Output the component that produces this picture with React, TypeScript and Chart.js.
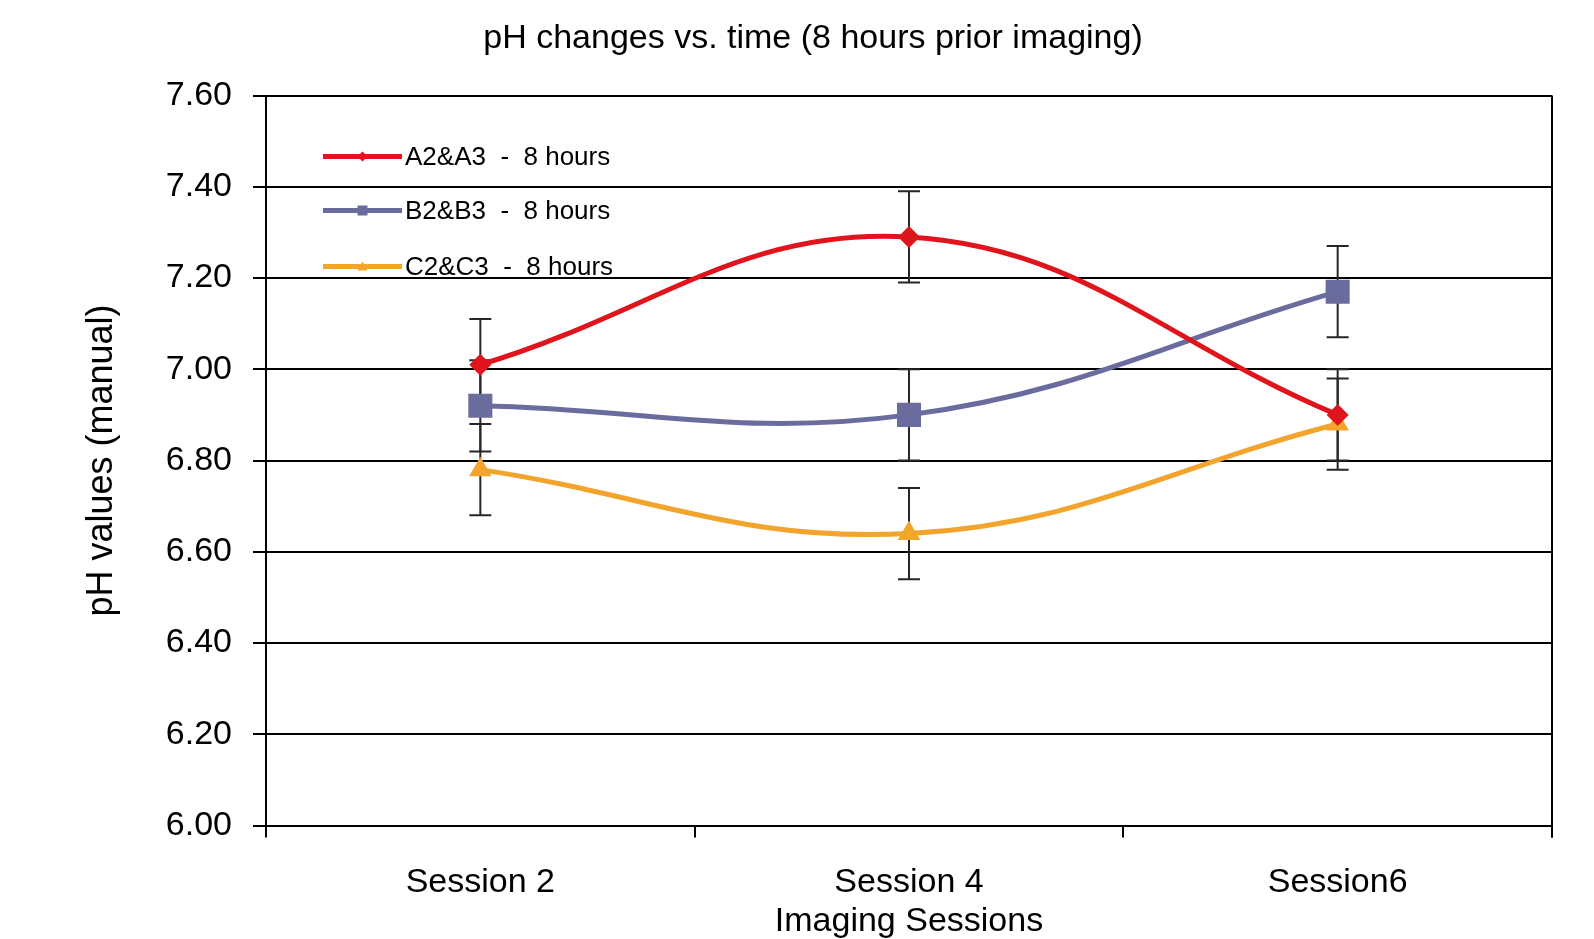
import React, { useEffect, useRef } from 'react';
import { Chart, registerables } from 'chart.js';

Chart.register(...registerables);

const chartTitle = 'pH changes vs. time (8 hours prior imaging)';
const sessions = ['Session 2', 'Session 4', 'Session6'];
const seriesLabels = ['A2&A3  -  8 hours', 'B2&B3  -  8 hours', 'C2&C3  -  8 hours'];
const seriesA = [7.01, 7.29, 6.9];
const seriesB = [6.92, 6.9, 7.17];
const seriesC = [6.78, 6.64, 6.88];
const errA = [0.1, 0.1, 0.1];
const errB = [0.1, 0.1, 0.1];
const errC = [0.1, 0.1, 0.1];
const yTicksMin = 6.0;
const yTicksMax = 7.6;
const yStep = 0.2;

const FONT = '"Liberation Sans", Arial, sans-serif';
const RED = '#E0141C';
const BLUE = '#6A6C9E';
const ORANGE = '#F2A42C';

function drawMarker(ctx: CanvasRenderingContext2D, style: string, x: number, y: number, r: number, color: string) {
  ctx.save();
  ctx.fillStyle = color;
  ctx.beginPath();
  if (style === 'rectRot') {
    ctx.moveTo(x, y - r);
    ctx.lineTo(x + r, y);
    ctx.lineTo(x, y + r);
    ctx.lineTo(x - r, y);
  } else if (style === 'rect') {
    ctx.rect(x - r, y - r, 2 * r, 2 * r);
  } else {
    ctx.moveTo(x, y - r);
    ctx.lineTo(x + r, y + r * 0.8);
    ctx.lineTo(x - r, y + r * 0.8);
  }
  ctx.closePath();
  ctx.fill();
  ctx.restore();
}

const extrasPlugin = {
  id: 'extras',
  beforeDatasetsDraw(chart: any) {
    const ctx: CanvasRenderingContext2D = chart.ctx;
    const x = chart.scales.x;
    const y = chart.scales.y;
    ctx.save();
    ctx.strokeStyle = '#262626';
    ctx.lineWidth = 2;
    chart.data.datasets.forEach((ds: any) => {
      const errs: number[] = ds.errors || [];
      ds.data.forEach((v: number, i: number) => {
        const px = x.getPixelForValue(i);
        const top = y.getPixelForValue(v + errs[i]);
        const bot = y.getPixelForValue(v - errs[i]);
        ctx.beginPath();
        ctx.moveTo(px, top);
        ctx.lineTo(px, bot);
        ctx.moveTo(px - 11, top);
        ctx.lineTo(px + 11, top);
        ctx.moveTo(px - 11, bot);
        ctx.lineTo(px + 11, bot);
        ctx.stroke();
      });
    });
    ctx.restore();
  },
  afterDraw(chart: any) {
    const ctx: CanvasRenderingContext2D = chart.ctx;
    const area = chart.chartArea;
    ctx.save();
    // chart title
    ctx.fillStyle = '#000';
    ctx.font = `34px ${FONT}`;
    ctx.textAlign = 'center';
    ctx.textBaseline = 'middle';
    ctx.fillText(chartTitle, 813, 39);
    // right border of plot area
    ctx.strokeStyle = '#000';
    ctx.lineWidth = 2;
    ctx.beginPath();
    ctx.moveTo(area.right, area.top);
    ctx.lineTo(area.right, area.bottom + 12);
    ctx.stroke();
    // legend inside plot
    const lx0 = area.left + 57;
    const lx1 = area.left + 136;
    const rows = [area.top + 61, area.top + 115, area.top + 171];
    chart.data.datasets.forEach((ds: any, i: number) => {
      const ly = rows[i];
      ctx.strokeStyle = ds.borderColor;
      ctx.lineWidth = 5;
      ctx.beginPath();
      ctx.moveTo(lx0, ly);
      ctx.lineTo(lx1, ly);
      ctx.stroke();
      drawMarker(ctx, ds.pointStyle, (lx0 + lx1) / 2, ly, 5, ds.borderColor);
      ctx.fillStyle = '#000';
      ctx.font = `26px ${FONT}`;
      ctx.textBaseline = 'middle';
      ctx.textAlign = 'left';
      ctx.fillText(ds.label, lx1 + 3, ly + 1);
    });
    ctx.restore();
  },
};

export default function App() {
  const canvasRef = useRef<HTMLCanvasElement | null>(null);

  useEffect(() => {
    document.body.style.margin = '0';
    const canvas = canvasRef.current;
    if (!canvas) return;
    const chart = new Chart(canvas, {
      type: 'line',
      data: {
        labels: sessions,
        datasets: [
          {
            label: seriesLabels[0],
            data: seriesA,
            errors: errA,
            borderColor: RED,
            backgroundColor: RED,
            borderWidth: 5,
            pointStyle: 'rectRot',
            pointRadius: 11,
            pointBorderWidth: 0,
            tension: 0.4,
          } as any,
          {
            label: seriesLabels[1],
            data: seriesB,
            errors: errB,
            borderColor: BLUE,
            backgroundColor: BLUE,
            borderWidth: 5,
            pointStyle: 'rect',
            pointRadius: 17,
            pointBorderWidth: 0,
            tension: 0.4,
          } as any,
          {
            label: seriesLabels[2],
            data: seriesC,
            errors: errC,
            borderColor: ORANGE,
            backgroundColor: ORANGE,
            borderWidth: 5,
            pointStyle: 'triangle',
            pointRadius: 13,
            pointBorderWidth: 0,
            tension: 0.4,
          } as any,
        ],
      },
      options: {
        animation: false,
        responsive: true,
        maintainAspectRatio: false,
        layout: { padding: { left: 0, right: 42, top: 95.5, bottom: 0 } },
        plugins: {
          legend: { display: false },
          tooltip: { enabled: false },
          title: { display: false },
        },
        scales: {
          x: {
            type: 'category',
            offset: true,
            grid: {
              offset: true,
              drawOnChartArea: false,
              drawTicks: true,
              tickLength: 12,
              color: '#000',
              lineWidth: 2,
            },
            border: { color: '#000', width: 2 },
            ticks: {
              color: '#000',
              font: { family: FONT, size: 34 },
              padding: 25,
              maxRotation: 0,
            },
            title: {
              display: true,
              text: 'Imaging Sessions',
              color: '#000',
              font: { family: FONT, size: 34 },
              padding: { top: 0, bottom: -3 },
            },
            afterFit: (s: any) => {
              s.height = 113.5;
            },
          },
          y: {
            min: yTicksMin,
            max: yTicksMax,
            grid: { color: '#000', lineWidth: 2, tickLength: 13 },
            border: { color: '#000', width: 2 },
            ticks: {
              stepSize: yStep,
              color: '#000',
              font: { family: FONT, size: 34 },
              padding: 21,
              callback: (v: any) => Number(v).toFixed(2),
            },
            title: {
              display: true,
              text: 'pH values (manual)',
              color: '#000',
              font: { family: FONT, size: 36 },
              padding: { top: 80, bottom: 0 },
            },
            afterFit: (s: any) => {
              s.width = 266;
            },
          },
        },
      } as any,
      plugins: [extrasPlugin],
    });
    return () => chart.destroy();
  }, []);

  return (
    <div style={{ position: 'fixed', left: 0, top: 0, width: 1594, height: 939, background: '#fff' }}>
      <canvas ref={canvasRef} />
    </div>
  );
}
